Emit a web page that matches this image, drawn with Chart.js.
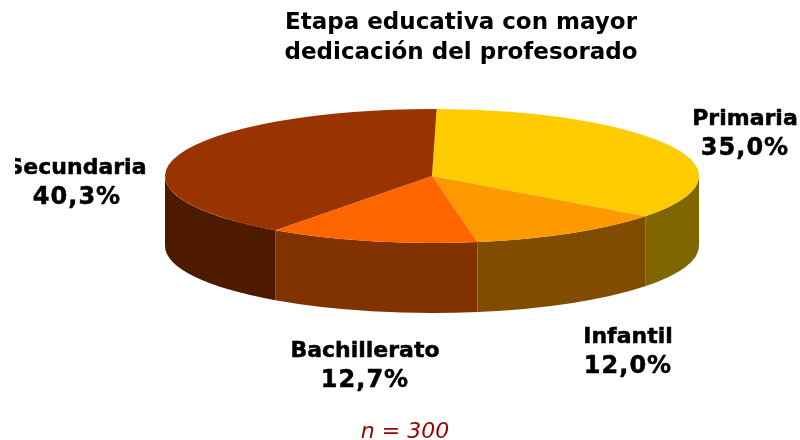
<!DOCTYPE html>
<html>
<head>
<meta charset="utf-8">
<title>Etapa educativa</title>
<script src="https://cdn.jsdelivr.net/npm/chart.js@4"></script>
<style>
  html, body { margin: 0; padding: 0; background: #fff; }
  canvas { display: block; }
</style>
</head>
<body>
<canvas id="pie3d" width="800" height="440"></canvas>
<script>
var categories = ['Primaria', 'Infantil', 'Bachillerato', 'Secundaria'];
var percents = [35.0, 12.0, 12.7, 40.3];
var titleLines = ['Etapa educativa con mayor', 'dedicación del profesorado'];
var note = 'n = 300';

var topColors = ['#FFCC00', '#FF9900', '#FF6600', '#993300'];
var wallColors = ['#806600', '#804D00', '#803300', '#4D1A00'];
var labelCenters = [[745, 119], [628, 337], [365, 351], [77, 168]];

var fontFamily = '"DejaVu Sans", Verdana, sans-serif';
var squash = 67 / 267;
var wallDepth = 70;

function squashed(ctx, arc) {
  ctx.translate(arc.x, arc.y);
  ctx.scale(1, squash);
  ctx.translate(-arc.x, -arc.y);
}

function heavyText(ctx, text, x, y) {
  ctx.fillText(text, x, y);
  ctx.strokeText(text, x, y);
}

var pie3d = {
  id: 'pie3d',
  afterLayout: function (chart) {
    // title and note are not centred on the canvas in the original
    chart.boxes.forEach(function (box) {
      if (box.options && box.options.text === titleLines) {
        box.left = 461 - box.width / 2;
        box.right = 461 + box.width / 2;
      } else if (box.options && box.options.text === note) {
        box.left = 405 - box.width / 2;
        box.right = 405 + box.width / 2;
      }
    });
  },
  beforeDatasetsDraw: function (chart) {
    var ctx = chart.ctx;
    chart.getDatasetMeta(0).data.forEach(function (arc, i) {
      var from = Math.max(arc.startAngle, 0);
      var to = Math.min(arc.endAngle, Math.PI);
      if (to <= from) return;
      var ry = arc.outerRadius * squash;
      ctx.beginPath();
      ctx.ellipse(arc.x, arc.y, arc.outerRadius, ry, 0, from, to);
      ctx.ellipse(arc.x, arc.y + wallDepth, arc.outerRadius, ry, 0, to, from, true);
      ctx.closePath();
      ctx.fillStyle = wallColors[i];
      ctx.fill();
    });
  },
  beforeDatasetDraw: function (chart) {
    chart.ctx.save();
    squashed(chart.ctx, chart.getDatasetMeta(0).data[0]);
  },
  afterDatasetDraw: function (chart) {
    chart.ctx.restore();
  },
  afterDraw: function (chart) {
    var ctx = chart.ctx;
    ctx.save();
    // the first letter of Secundaria is cut off by the frame
    ctx.beginPath();
    ctx.rect(15, 0, 785, 440);
    ctx.clip();
    ctx.fillStyle = '#000';
    ctx.strokeStyle = '#000';
    ctx.lineWidth = 0.5;
    ctx.textAlign = 'center';
    ctx.textBaseline = 'middle';
    categories.forEach(function (name, i) {
      var pos = labelCenters[i];
      ctx.font = 'bold 22px ' + fontFamily;
      ctx.letterSpacing = '0px';
      heavyText(ctx, name, pos[0], pos[1]);
      // digits run wider in the original
      ctx.font = 'bold 24px ' + fontFamily;
      ctx.letterSpacing = '1px';
      heavyText(ctx, percents[i].toFixed(1).replace('.', ',') + '%', pos[0], pos[1] + 30);
    });
    ctx.restore();
  }
};

new Chart(document.getElementById('pie3d'), {
  type: 'pie',
  plugins: [pie3d],
  data: {
    labels: categories,
    datasets: [{
      data: percents,
      backgroundColor: topColors,
      borderWidth: 0,
      clip: false
    }]
  },
  options: {
    responsive: false,
    animation: false,
    rotation: 1,
    radius: 267,
    layout: { padding: { left: 64 } },
    plugins: {
      legend: { display: false },
      tooltip: { enabled: false },
      title: {
        display: true,
        text: titleLines,
        color: '#000',
        font: { family: fontFamily, size: 23, weight: 'bold', lineHeight: 1.304 },
        padding: { top: 8, bottom: 2 }
      },
      subtitle: {
        display: true,
        position: 'bottom',
        text: note,
        color: '#990000',
        font: { family: fontFamily, size: 22, style: 'italic', weight: 'normal', lineHeight: 0.7 },
        padding: { top: 142.6, bottom: 0 }
      }
    }
  }
});
</script>
</body>
</html>
